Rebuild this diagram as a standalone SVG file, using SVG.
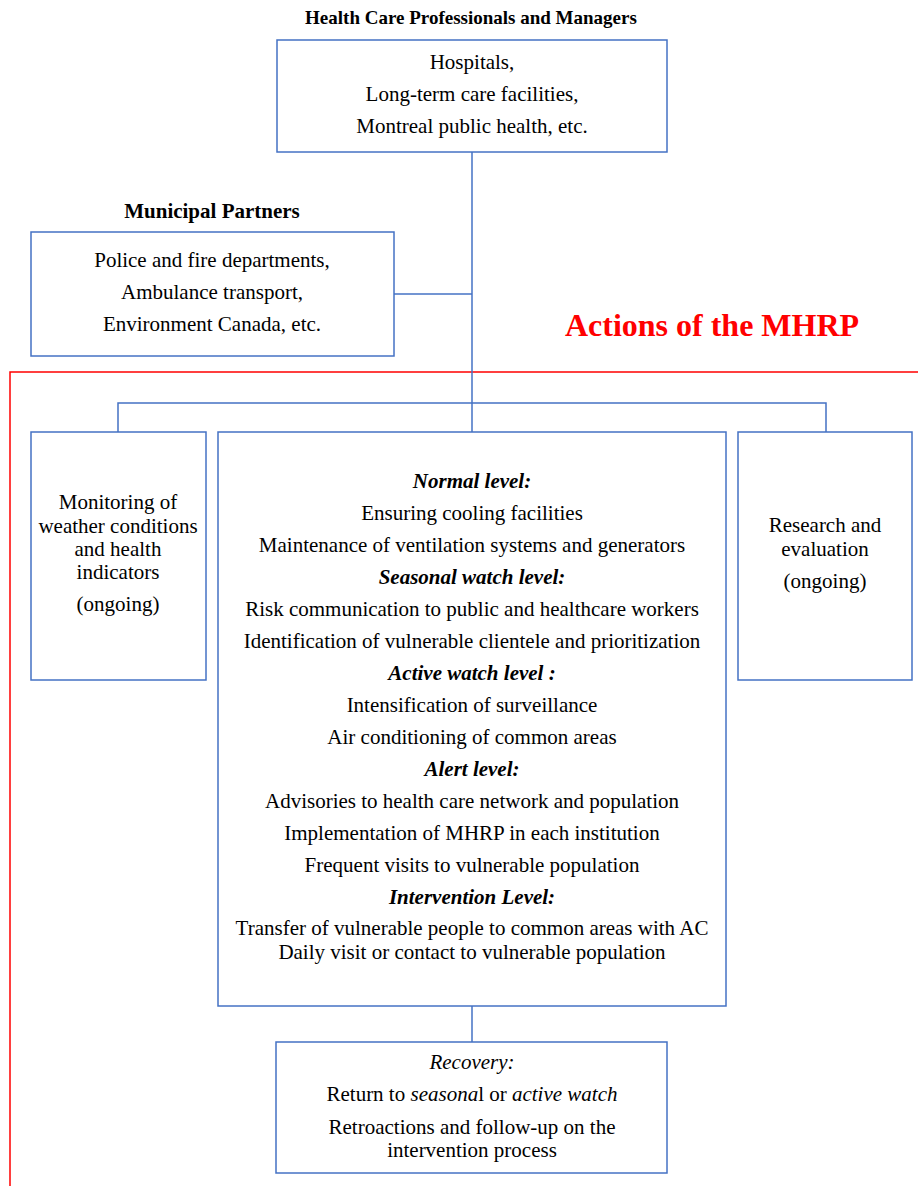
<svg xmlns="http://www.w3.org/2000/svg" width="918" height="1186" viewBox="0 0 918 1186">
<style>
.box{fill:#fff;stroke:#4472C4;stroke-width:1.5}
.con{fill:none;stroke:#4472C4;stroke-width:1.5}
.red{fill:none;stroke:#FF0000;stroke-width:1.5}
text{font-family:"Liberation Serif","Times New Roman",serif;font-size:21px;fill:#000;text-anchor:middle}
.b{font-weight:bold}
.i{font-style:italic}
.bi{font-weight:bold;font-style:italic}
</style>
<rect width="918" height="1186" fill="#fff"/>
<g id="frame">
<path class="red" d="M10 1186 V372 H918"/>
<text x="712" y="336" style="font-size:32px;font-weight:bold;fill:#FF0000">Actions of the MHRP</text>
</g>
<g id="connectors">
<path class="con" d="M472 152 V432"/>
<path class="con" d="M394 294 H472"/>
<path class="con" d="M118 432 V403 H826 V432"/>
<path class="con" d="M472 1006 V1042"/>
</g>
<g id="health">
<text class="b" x="471" y="24" style="font-size:19px">Health Care Professionals and Managers</text>
<rect class="box" x="277" y="40" width="390" height="112"/>
<text x="472" y="69">Hospitals,</text>
<text x="472" y="101">Long-term care facilities,</text>
<text x="472" y="133">Montreal public health, etc.</text>
</g>
<g id="municipal">
<text class="b" x="212" y="218">Municipal Partners</text>
<rect class="box" x="31" y="232" width="363" height="124"/>
<text x="212" y="267">Police and fire departments,</text>
<text x="212" y="299">Ambulance transport,</text>
<text x="212" y="331">Environment Canada, etc.</text>
</g>
<g id="monitoring">
<rect class="box" x="31" y="432" width="175" height="248"/>
<text x="118" y="509">Monitoring of</text>
<text x="118" y="533">weather conditions</text>
<text x="118" y="556">and health</text>
<text x="118" y="579">indicators</text>
<text x="118" y="611">(ongoing)</text>
</g>
<g id="levels">
<rect class="box" x="218" y="432" width="508" height="574"/>
<text class="bi" x="472" y="488">Normal level:</text>
<text x="472" y="520">Ensuring cooling facilities</text>
<text x="472" y="552">Maintenance of ventilation systems and generators</text>
<text class="bi" x="472" y="584">Seasonal watch level:</text>
<text x="472" y="616">Risk communication to public and healthcare workers</text>
<text x="472" y="648">Identification of vulnerable clientele and prioritization</text>
<text class="bi" x="472" y="680">Active watch level :</text>
<text x="472" y="712">Intensification of surveillance</text>
<text x="472" y="744">Air conditioning of common areas</text>
<text class="bi" x="472" y="776">Alert level:</text>
<text x="472" y="808">Advisories to health care network and population</text>
<text x="472" y="840">Implementation of MHRP in each institution</text>
<text x="472" y="872">Frequent visits to vulnerable population</text>
<text class="bi" x="472" y="904">Intervention Level:</text>
<text x="472" y="935">Transfer of vulnerable people to common areas with AC</text>
<text x="472" y="959">Daily visit or contact to vulnerable population</text>
</g>
<g id="research">
<rect class="box" x="738" y="432" width="174" height="248"/>
<text x="825" y="532">Research and</text>
<text x="825" y="556">evaluation</text>
<text x="825" y="588">(ongoing)</text>
</g>
<g id="recovery">
<rect class="box" x="276" y="1042" width="391" height="131"/>
<text class="i" x="472" y="1069">Recovery:</text>
<text x="472" y="1101">Return to <tspan class="i">seasona</tspan>l or <tspan class="i">active watch</tspan></text>
<text x="472" y="1134">Retroactions and follow-up on the</text>
<text x="472" y="1157">intervention process</text>
</g>
</svg>
